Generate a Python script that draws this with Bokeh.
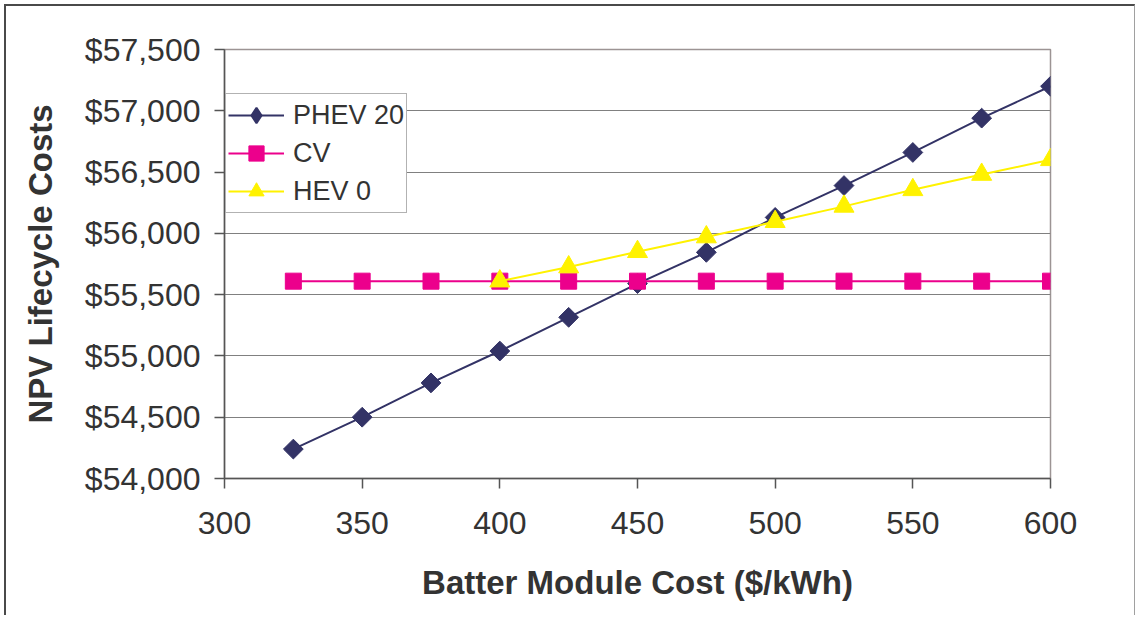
import math
from bokeh.plotting import figure
from bokeh.models import (Range1d, FixedTicker, NumeralTickFormatter, Legend, LegendItem)
from bokeh.embed import file_html
from bokeh.resources import INLINE

# ---- data ----
battery_cost = [325, 350, 375, 400, 425, 450, 475, 500, 525, 550, 575, 600]
phev20 = [54240, 54500, 54780, 55040, 55315, 55590, 55845, 56130, 56390, 56660, 56940, 57200]
cv = [55610, 55610, 55610, 55610, 55610, 55610, 55610, 55610, 55610, 55610, 55610, 55610]
hev_cost = [400, 425, 450, 475, 500, 525, 550, 575, 600]
hev0 = [55610, 55725, 55850, 55970, 56095, 56220, 56355, 56480, 56600]
x_ticks = [300, 350, 400, 450, 500, 550, 600]
y_ticks = [54000, 54500, 55000, 55500, 56000, 56500, 57000, 57500]

FONT = "Liberation Sans"
TXT = "#333333"
NAVY = "#333366"
MAGENTA = "#EC008C"
YELLOW = "#FFF200"

W, H = 1131, 611
p = figure(width=W, height=H, output_backend="svg", toolbar_location=None,
           x_range=Range1d(300, 600), y_range=Range1d(54000, 57500),
           min_border_left=218, min_border_right=87, min_border_top=43, min_border_bottom=139)
p.styles = {"margin-left": "4px", "margin-top": "4px",
            "border-left": "2px solid #4a4a4a", "border-top": "2px solid #4a4a4a",
            "border-right": "1px solid #a0a0a0"}

p.background_fill_color = "white"
p.border_fill_color = "white"
p.outline_line_color = "#9c9494"
p.outline_line_width = 1.5

p.xgrid.visible = False
p.ygrid.grid_line_color = "#808080"
p.ygrid.grid_line_width = 1.2
p.ygrid.ticker = FixedTicker(ticks=y_ticks)

for ax in (p.xaxis, p.yaxis):
    ax.axis_line_color = "#555555"
    ax.axis_line_width = 1.5
    ax.major_tick_line_color = "#555555"
    ax.major_tick_line_width = 1.5
    ax.major_tick_out = 10
    ax.major_tick_in = 0
    ax.minor_tick_line_color = None
    ax.major_label_text_font = FONT
    ax.major_label_text_font_size = "32px"
    ax.major_label_text_color = TXT
    ax.axis_label_text_font = FONT
    ax.axis_label_text_font_size = "33px"
    ax.axis_label_text_font_style = "bold"
    ax.axis_label_text_color = TXT

p.xaxis.ticker = FixedTicker(ticks=x_ticks)
p.yaxis.ticker = FixedTicker(ticks=y_ticks)
p.yaxis.formatter = NumeralTickFormatter(format="$0,0")
p.xaxis.axis_label = "Batter Module Cost ($/kWh)"
p.yaxis.axis_label = "NPV Lifecycle Costs"
p.xaxis.major_label_standoff = 23
p.yaxis.major_label_standoff = 14
p.xaxis.axis_label_standoff = 27
p.yaxis.axis_label_standoff = 23

l1 = p.line(battery_cost, phev20, line_color=NAVY, line_width=2)
s1 = p.scatter(battery_cost, phev20, marker="square", angle=math.pi / 4, size=14,
               fill_color=NAVY, line_color=NAVY)
l2 = p.line(battery_cost, cv, line_color=MAGENTA, line_width=2)
s2 = p.scatter(battery_cost, cv, marker="square", size=16, fill_color=MAGENTA, line_color=MAGENTA)
l3 = p.line(hev_cost, hev0, line_color=YELLOW, line_width=2)
s3 = p.scatter(hev_cost, hev0, marker="triangle", size=20, fill_color=YELLOW, line_color=YELLOW)

# legend-only diamond key (no visible data point)
s1_key = p.scatter([float("nan")], [float("nan")], marker="diamond",
                   fill_color=NAVY, line_color=NAVY, line_width=2)

legend = Legend(items=[LegendItem(label="PHEV 20", renderers=[l1, s1_key]),
                       LegendItem(label="CV", renderers=[l2, s2]),
                       LegendItem(label="HEV 0", renderers=[l3, s3])],
                location=(1, 265), margin=0, padding=2, spacing=0,
                glyph_width=56, glyph_height=38, label_height=38, label_standoff=9,
                label_text_font=FONT, label_text_font_size="27px", label_text_color=TXT,
                border_line_color="#666666", border_line_width=1.5,
                background_fill_color="white", background_fill_alpha=1.0)
p.add_layout(legend, "center")

open("out.html", "w").write(file_html(p, INLINE))
